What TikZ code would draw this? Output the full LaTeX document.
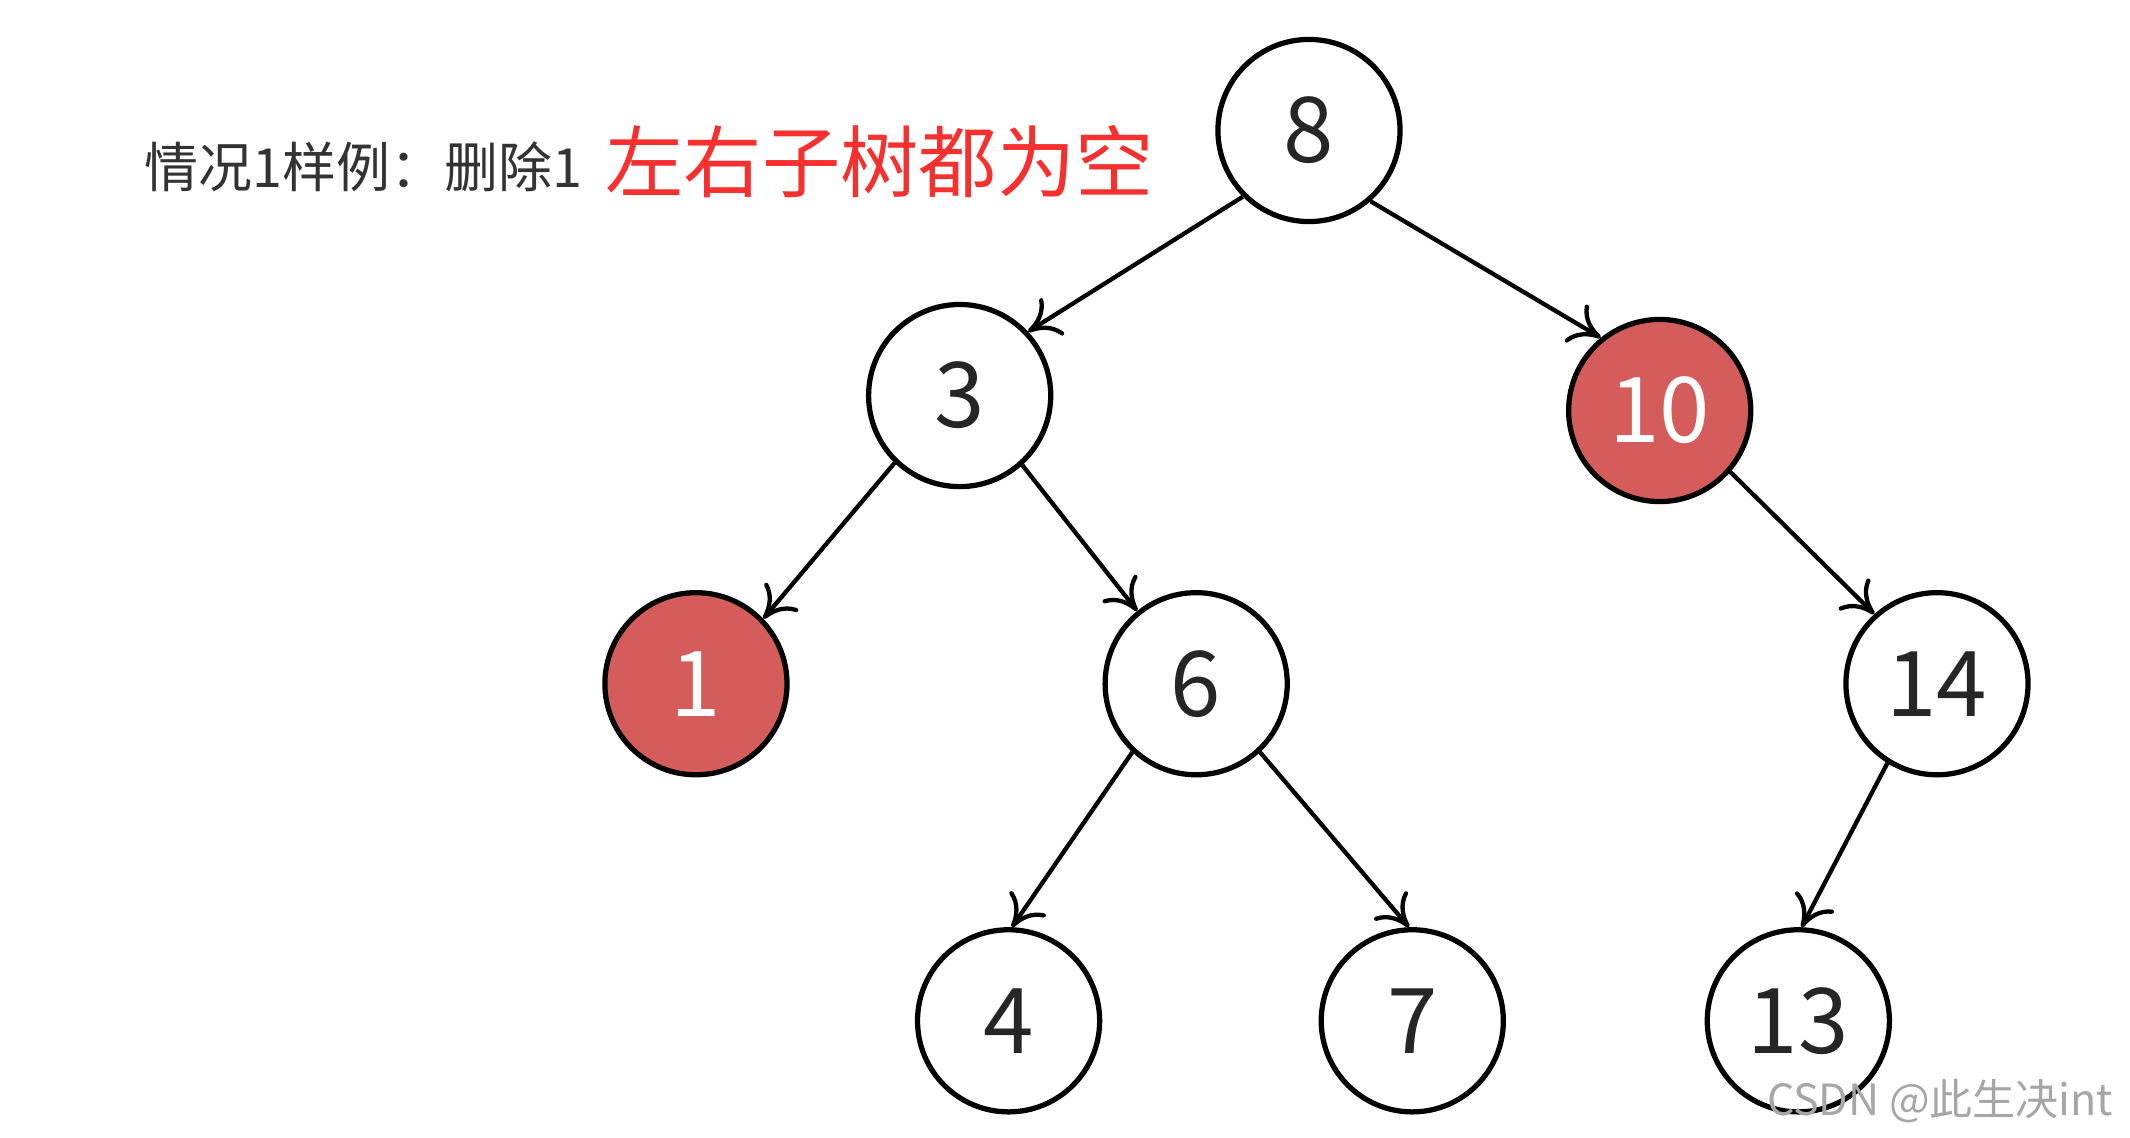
\documentclass[tikz,border=0pt]{standalone}
\usepackage{fontspec}
\setmainfont{Noto Sans CJK SC}
\usetikzlibrary{arrows.meta}
\definecolor{delred}{HTML}{D45D5B}
\definecolor{titlered}{HTML}{F5302F}
\tikzset{
  key/.style={circle,draw,line width=1.1pt,minimum size=1.34cm,inner sep=0pt,font=\fontsize{19}{19}\selectfont,text=black!85},
  hit/.style={key,fill=delred,text=white},
  edge/.style={-{To[length=2.2mm,width=3.2mm]},line width=0.9pt}
}
\begin{document}
\begin{tikzpicture}[y=-1cm]
\useasboundingbox (0,0) rectangle (15.67,8.37);

% title:
\node[right,font=\fontsize{11.3}{12}\selectfont,text=black!80] (cap) at (0.94,1.23) {情况1样例：删除1};
\node[right,font=\fontsize{16.4}{20}\selectfont,text=titlered] (case) at (4.33,1.19) {左右子树都为空};

% keys:
\node[key] (k8) at (9.63,0.96) {8};
\node[key] (k3) at (7.06,2.91) {3};
\node[hit] (k10) at (12.21,3.02) {10};
\node[hit] (k1) at (5.12,5.03) {1};
\node[key] (k6) at (8.80,5.03) {6};
\node[key] (k14) at (14.25,5.03) {14};
\node[key] (k4) at (7.42,7.51) {4};
\node[key] (k7) at (10.39,7.51) {7};
\node[key] (k13) at (13.23,7.51) {13};

\draw[edge] (k8.-135) -- (k3.43);
\draw[edge] (k8.-49) -- (k10.129);
\draw[edge] (k3.-134) -- (k1.44);
\draw[edge] (k3.-48) -- (k6.129);
\draw[edge] (k10.-41) -- (k14.132);
\draw[edge] (k6.-133) -- (k4.88);
\draw[edge] (k6.-47) -- (k7.92);
\draw[edge] (k14.-122) -- (k13.88);

\node[left,font=\fontsize{9}{10}\selectfont,text=black!35] (mark) at (15.67,8.1) {CSDN @此生决int};
\end{tikzpicture}
\end{document}
